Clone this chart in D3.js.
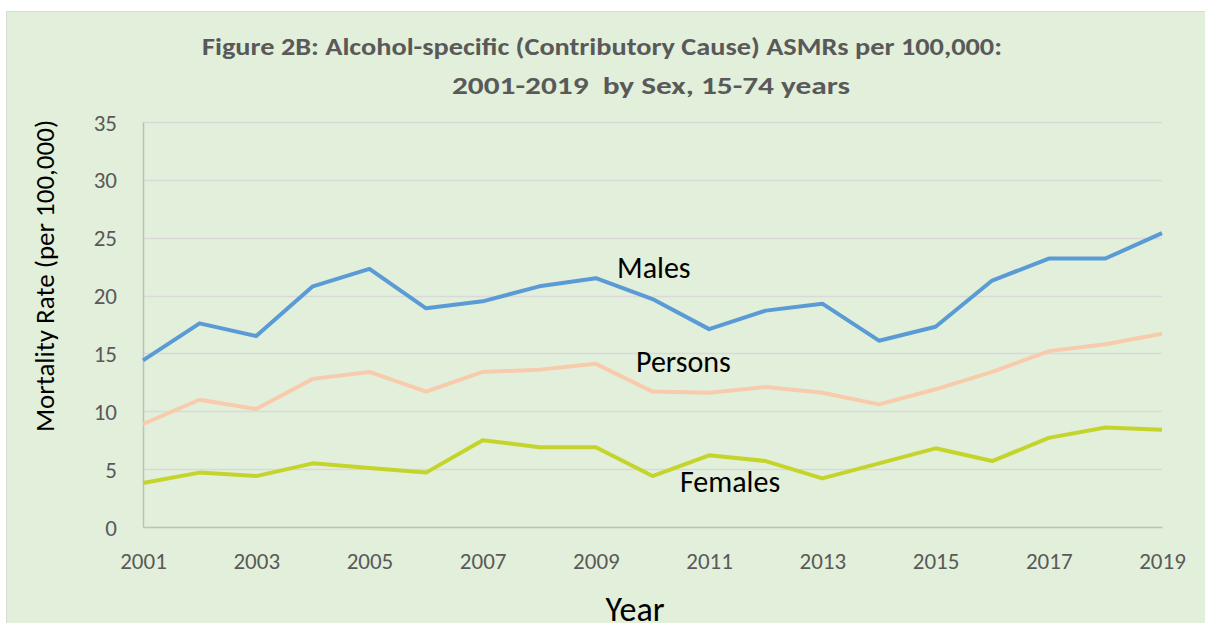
<!DOCTYPE html>
<html>
<head>
<meta charset="utf-8">
<script src="https://cdn.jsdelivr.net/npm/d3@7"></script>
<style>
  body { margin: 0; background: #fff; }
  svg { display: block; }
</style>
</head>
<body>
<div id="grafico"></div>
<script>
// dados
var anos = d3.range(2001, 2020);
var homens = [14.4, 17.6, 16.5, 20.8, 22.3, 18.9, 19.5, 20.8, 21.5, 19.7, 17.1, 18.7, 19.3, 16.1, 17.3, 21.3, 23.2, 23.2, 25.4];
var pessoas = [8.9, 11.0, 10.2, 12.8, 13.4, 11.7, 13.4, 13.6, 14.1, 11.7, 11.6, 12.1, 11.6, 10.6, 11.9, 13.4, 15.2, 15.8, 16.7];
var mulheres = [3.8, 4.7, 4.4, 5.5, 5.1, 4.7, 7.5, 6.9, 6.9, 4.4, 6.2, 5.7, 4.2, 5.5, 6.8, 5.7, 7.7, 8.6, 8.4];
var ticks_y = [0, 5, 10, 15, 20, 25, 30, 35];
var ticks_x = [2001, 2003, 2005, 2007, 2009, 2011, 2013, 2015, 2017, 2019];

var series = [
  {nome: 'Males', valores: homens, cor: '#5b9bd5', lx: 617, ly: 278},
  {nome: 'Persons', valores: pessoas, cor: '#f8cbad', lx: 636, ly: 372},
  {nome: 'Females', valores: mulheres, cor: '#c5d42a', lx: 680, ly: 492}
];

var width = 1205,
    height = 623,
    fonte = "Carlito, Calibri, Lato, sans-serif";

var svg = d3.select("#grafico").append("svg")
    .attr("width", width)
    .attr("height", height);

// fundo do grafico
svg.append("rect")
    .attr("x", 6.5)
    .attr("y", 11.5)
    .attr("width", width)
    .attr("height", height)
    .attr("fill", "#e2efda")
    .attr("stroke", "#d9d9d9");

var x = d3.scaleLinear().domain([2001, 2019]).range([143, 1162]);
var y = d3.scaleLinear().domain([0, 35]).range([527, 122]);

// linhas de grade
svg.append("g").selectAll("line")
    .data(ticks_y.filter(function(d) { return d > 0; }))
    .enter().append("line")
    .attr("x1", x(2001))
    .attr("x2", x(2019))
    .attr("y1", function(d) { return Math.round(y(d)) + 0.5; })
    .attr("y2", function(d) { return Math.round(y(d)) + 0.5; })
    .attr("stroke", "#d9d9d9")
    .attr("stroke-width", 1.5);

// eixos
var eixoY = svg.append("g")
    .attr("transform", "translate(" + x(2001) + ",0)")
    .call(d3.axisLeft(y).tickValues(ticks_y).tickSize(0).tickPadding(26));
var eixoX = svg.append("g")
    .attr("transform", "translate(0," + y(0) + ")")
    .call(d3.axisBottom(x).tickValues(ticks_x).tickFormat(d3.format("d")).tickSize(0).tickPadding(26));

[eixoY, eixoX].forEach(function(g) {
  g.select(".domain").attr("stroke", "#bfbfbf").attr("stroke-width", 1.5);
  g.selectAll("text")
      .attr("font-family", fonte)
      .attr("font-size", "23px")
      .attr("fill", "#595959");
});
eixoY.selectAll("text").attr("dy", "0.35em");

// linhas
var linha = d3.line()
    .x(function(d, i) { return x(anos[i]); })
    .y(function(d) { return y(d); });

series.forEach(function(s) {
  svg.append("path")
      .attr("d", linha(s.valores))
      .attr("fill", "none")
      .attr("stroke", s.cor)
      .attr("stroke-width", 4)
      .attr("stroke-linejoin", "round");

  svg.append("text")
      .attr("x", s.lx)
      .attr("y", s.ly)
      .attr("font-family", fonte)
      .attr("font-size", "30px")
      .attr("fill", "#000")
      .text(s.nome);
});

// titulo
svg.append("text")
    .attr("x", 202)
    .attr("y", 55)
    .attr("textLength", 800)
    .attr("lengthAdjust", "spacingAndGlyphs")
    .attr("font-family", fonte)
    .attr("font-weight", "bold")
    .attr("font-size", "24px")
    .attr("fill", "#595959")
    .text("Figure 2B: Alcohol-specific (Contributory Cause) ASMRs per 100,000:");

svg.append("text")
    .attr("x", 452)
    .attr("y", 94)
    .attr("textLength", 398)
    .attr("lengthAdjust", "spacingAndGlyphs")
    .attr("font-family", fonte)
    .attr("font-weight", "bold")
    .attr("font-size", "24px")
    .attr("fill", "#595959")
    .style("white-space", "pre")
    .text("2001-2019  by Sex, 15-74 years");

// titulos dos eixos
svg.append("text")
    .attr("transform", "translate(54,276) rotate(-90)")
    .attr("text-anchor", "middle")
    .attr("font-family", fonte)
    .attr("font-size", "27px")
    .attr("fill", "#000")
    .text("Mortality Rate (per 100,000)");

svg.append("text")
    .attr("x", 635)
    .attr("y", 621)
    .attr("text-anchor", "middle")
    .attr("font-family", fonte)
    .attr("font-size", "34px")
    .attr("fill", "#000")
    .text("Year");
</script>
</body>
</html>
